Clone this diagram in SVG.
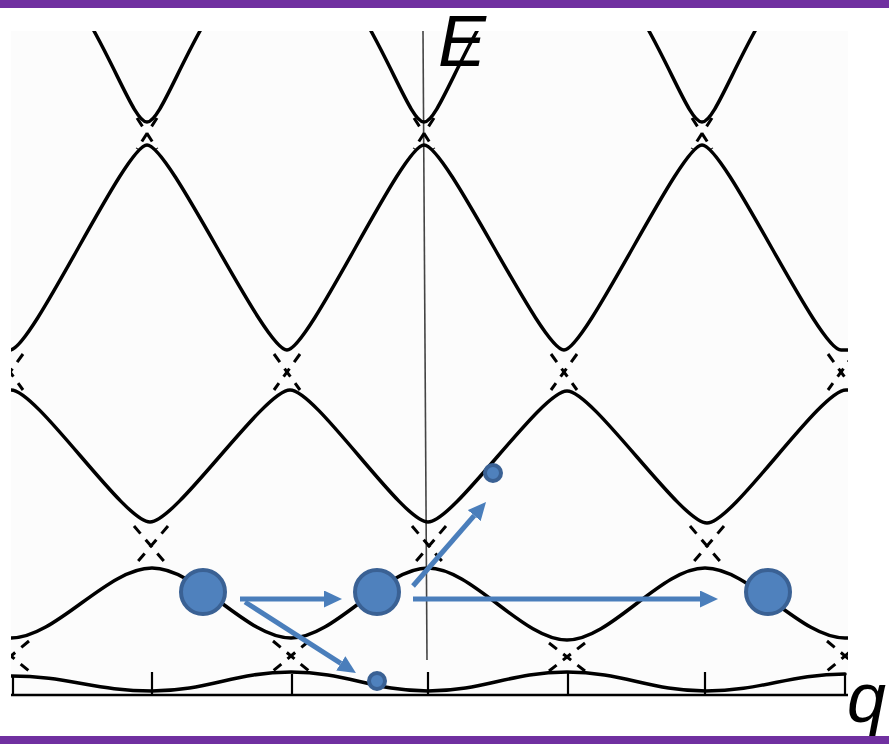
<svg xmlns="http://www.w3.org/2000/svg" width="889" height="744" viewBox="0 0 889 744">
<defs>
<style>
.band{fill:none;stroke:#000;stroke-width:3.5;stroke-linecap:round;stroke-linejoin:round}
.dash{fill:none;stroke:#000;stroke-width:3;stroke-dasharray:10 8;stroke-linecap:butt}
.axis{fill:none;stroke:#000;stroke-width:2.5}
.tick{stroke:#000;stroke-width:2.2}
.node{fill:#4F81BD;stroke:#3A6194;stroke-width:4}
.arrow{stroke:#4A7EBB;stroke-width:5;fill:none;marker-end:url(#ah)}
.label{font-family:"Liberation Sans",Arial,sans-serif;font-style:italic;fill:#000}
.bar{fill:#7030A0}
</style>
<marker id="ah" markerUnits="userSpaceOnUse" markerWidth="18" markerHeight="17" refX="0" refY="8.5" orient="auto">
<path d="M0,0 L18,8.5 L0,17 z" fill="#4A7EBB"/>
</marker>
<clipPath id="scan"><rect x="11" y="31" width="837" height="667"/></clipPath>
</defs>
<rect width="889" height="744" fill="#fff"/>
<rect x="11" y="31" width="837" height="667" fill="#fcfcfc"/>
<g id="bands" clip-path="url(#scan)">
<line x1="423" y1="31" x2="427" y2="660" stroke="#444" stroke-width="1.6"/>
<!-- band 5 -->
<path class="band" d="M94,31 C120,78 136,122 147,122 C158,122 174,78 200,31"/>
<path class="band" d="M371,31 C397,78 413,122 424,122 C435,122 451,78 477,31"/>
<path class="band" d="M649,31 C675,78 691,122 702,122 C713,122 729,78 755,31"/>
<!-- band 4 -->
<path class="band" d="M4,350 L10,350 C32,350 125,145 147,145 C170,145 264,350 287,350 C309,350 402,145 424,145 C447,145 541,350 564,350 C586,350 680,145 702,145 C725,145 818,350 841,350 L850,350"/>
<!-- band 3 -->
<path class="band" d="M4,390 L11,390 C37,390 124,522 150,522 C176,522 264,390 290,390 C316,390 402,522 428,522 C454,522 541,391 567,391 C593,391 681,523 707,523 C733,523 820,390 846,390 L850,390"/>
<!-- band 2 -->
<path class="band" d="M4,638 L11,638 C56,638 107,568 152,568 C197,568 246,638 291,638 C335,638 384,568 428,568 C472,568 523,640 567,640 C611,640 661,568 705,568 C750,568 800,638 845,638 L850,638"/>
<!-- band 1 -->
<path class="band" d="M11,676 C67,676 96,691 152,691 C208,691 235,672 291,672 C346,672 373,691 428,691 C484,691 511,672 567,672 C623,672 650,691 706,691 C762,691 789,674 845,674"/>
<!-- gap dashes (free-electron crossings) -->
<path class="dash" d="M137,118 L157,149 M157,118 L137,149"/>
<path class="dash" d="M414,118 L434,149 M434,118 L414,149"/>
<path class="dash" d="M692,118 L712,149 M712,118 L692,149"/>
<path class="dash" d="M-3,354 L23,390 M23,354 L-3,390"/>
<path class="dash" d="M274,354 L300,390 M300,354 L274,390"/>
<path class="dash" d="M551,354 L577,390 M577,354 L551,390"/>
<path class="dash" d="M828,354 L854,390 M854,354 L828,390"/>
<path class="dash" d="M134,526 L168,566 M168,526 L134,566"/>
<path class="dash" d="M412,526 L446,566 M446,526 L412,566"/>
<path class="dash" d="M690,526 L724,566 M724,526 L690,566"/>
<path class="dash" d="M-7,641 L29,671 M29,641 L-7,671"/>
<path class="dash" d="M273,641 L309,671 M309,641 L273,671"/>
<path class="dash" d="M549,643 L585,671 M585,643 L549,671"/>
<path class="dash" d="M827,641 L863,671 M863,641 L827,671"/>
<!-- axis -->
<line class="axis" x1="11" y1="695" x2="848" y2="695"/>
<line class="tick" x1="13" y1="675" x2="13" y2="695"/>
<line class="tick" x1="152" y1="672" x2="152" y2="695"/>
<line class="tick" x1="292" y1="674" x2="292" y2="695"/>
<line class="tick" x1="428" y1="672" x2="428" y2="695"/>
<line class="tick" x1="568" y1="673" x2="568" y2="695"/>
<line class="tick" x1="705" y1="672" x2="705" y2="695"/>
<line class="tick" x1="845" y1="674" x2="845" y2="695"/>
</g>
<g id="connectors">
<line class="arrow" x1="240" y1="599" x2="324" y2="599"/>
<line class="arrow" x1="245" y1="602" x2="340.8" y2="663.3"/>
<line class="arrow" x1="413" y1="599" x2="700" y2="599"/>
<line class="arrow" x1="413" y1="586" x2="474.2" y2="515.6"/>
</g>
<g id="electron-a"><circle class="node" cx="203" cy="592" r="22"/></g>
<g id="electron-b"><circle class="node" cx="377" cy="592" r="22"/></g>
<g id="electron-c"><circle class="node" cx="768" cy="592" r="22"/></g>
<g id="phonon-up"><circle class="node" cx="493" cy="473" r="8"/></g>
<g id="phonon-down"><circle class="node" cx="377" cy="681" r="8"/></g>
<text class="label" x="438" y="66" font-size="72">E</text>
<text class="label" x="847" y="722" font-size="70">q</text>
<rect class="bar" x="0" y="0" width="889" height="8"/>
<rect class="bar" x="0" y="736" width="889" height="8"/>
</svg>
